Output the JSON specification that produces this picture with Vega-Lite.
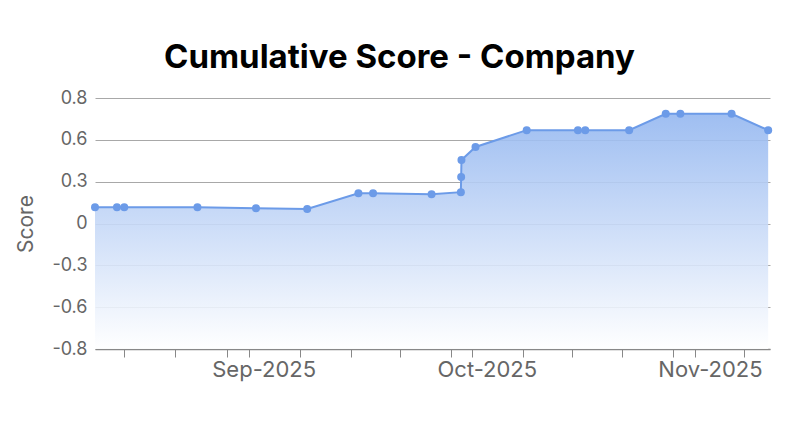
{
  "$schema": "https://vega.github.io/schema/vega-lite/v6.json",
  "width": 675,
  "height": 251,
  "autosize": {"type": "none"},
  "padding": {"left": 95, "top": 98, "right": 30, "bottom": 82},
  "background": "white",
  "title": {
    "text": "Cumulative Score - Company",
    "font": "Inter",
    "fontSize": 33,
    "fontWeight": "bold",
    "color": "#000000",
    "anchor": "middle",
    "dx": -33,
    "offset": 14
  },
  "data": {
    "values": [
      {"date": "2025-08-11T00:00:00", "score": 0.104},
      {"date": "2025-08-14T00:00:00", "score": 0.104},
      {"date": "2025-08-15T00:00:00", "score": 0.104},
      {"date": "2025-08-25T00:00:00", "score": 0.104},
      {"date": "2025-09-02T00:00:00", "score": 0.098},
      {"date": "2025-09-09T00:00:00", "score": 0.093},
      {"date": "2025-09-16T00:00:00", "score": 0.193},
      {"date": "2025-09-18T00:00:00", "score": 0.193},
      {"date": "2025-09-26T00:00:00", "score": 0.187},
      {"date": "2025-09-30T00:00:00", "score": 0.2},
      {"date": "2025-09-30T01:00:00", "score": 0.297},
      {"date": "2025-09-30T02:00:00", "score": 0.405},
      {"date": "2025-10-02T00:00:00", "score": 0.488},
      {"date": "2025-10-09T00:00:00", "score": 0.595},
      {"date": "2025-10-16T00:00:00", "score": 0.595},
      {"date": "2025-10-17T00:00:00", "score": 0.595},
      {"date": "2025-10-23T00:00:00", "score": 0.595},
      {"date": "2025-10-28T00:00:00", "score": 0.699},
      {"date": "2025-10-30T00:00:00", "score": 0.699},
      {"date": "2025-11-06T00:00:00", "score": 0.699},
      {"date": "2025-11-11T00:00:00", "score": 0.595}
    ]
  },
  "encoding": {
    "x": {
      "field": "date",
      "type": "temporal",
      "scale": {
        "domain": [
          {"year": 2025, "month": 8, "date": 11},
          {"year": 2025, "month": 11, "date": 11, "hours": 6}
        ],
        "nice": false
      },
      "axis": {
        "title": null,
        "grid": false,
        "values": [
          {"year": 2025, "month": 8, "date": 15},
          {"year": 2025, "month": 8, "date": 22},
          {"year": 2025, "month": 8, "date": 29},
          {"year": 2025, "month": 9, "date": 1},
          {"year": 2025, "month": 9, "date": 8},
          {"year": 2025, "month": 9, "date": 15},
          {"year": 2025, "month": 9, "date": 21, "hours": 17},
          {"year": 2025, "month": 9, "date": 28, "hours": 16},
          {"year": 2025, "month": 10, "date": 1, "hours": 12},
          {"year": 2025, "month": 10, "date": 8, "hours": 12},
          {"year": 2025, "month": 10, "date": 15, "hours": 5},
          {"year": 2025, "month": 10, "date": 22},
          {"year": 2025, "month": 10, "date": 29},
          {"year": 2025, "month": 11, "date": 1},
          {"year": 2025, "month": 11, "date": 7, "hours": 17}
        ],
        "labelExpr": "date(datum.value) == 1 ? timeFormat(datum.value, '%b-%Y') : ''",
        "labelFont": "Inter",
        "labelFontSize": 22,
        "labelColor": "#666666",
        "labelOffset": 15,
        "labelPadding": 2,
        "labelOverlap": false,
        "tickSize": 8,
        "tickColor": "#888888",
        "domainColor": "#888888",
        "domainWidth": 1.5
      }
    },
    "y": {
      "field": "score",
      "type": "quantitative",
      "scale": {"domain": [-0.8, 0.8], "nice": false, "zero": false},
      "axis": {
        "title": "Score",
        "titleFont": "Inter",
        "titleFontSize": 21,
        "titleFontWeight": "normal",
        "titleColor": "#666666",
        "titlePadding": 15,
        "values": [-0.8, -0.5333, -0.2667, 0, 0.2667, 0.5333, 0.8],
        "labelExpr": "datum.value > 0.7 ? '0.8' : datum.value > 0.5 ? '0.6' : datum.value > 0.2 ? '0.3' : datum.value > -0.1 ? '0' : datum.value > -0.4 ? '-0.3' : datum.value > -0.7 ? '-0.6' : '-0.8'",
        "labelFont": "Inter",
        "labelFontSize": 18,
        "labelColor": "#666666",
        "labelPadding": 8,
        "tickSize": 0,
        "domain": false,
        "grid": true,
        "gridColor": "#a8a8a8",
        "gridWidth": 1
      }
    }
  },
  "layer": [
    {
      "mark": {
        "type": "area",
        "fill": {
          "x1": 1, "y1": 1, "x2": 1, "y2": 0,
          "gradient": "linear",
          "stops": [
            {"offset": 0, "color": "#ffffff"},
            {"offset": 1, "color": "#94b7f0"}
          ]
        },
        "opacity": 0.9
      },
      "encoding": {
        "y2": {"datum": -0.8}
      }
    },
    {
      "mark": {"type": "line", "color": "#6c9be8", "strokeWidth": 2}
    },
    {
      "mark": {"type": "point", "filled": true, "color": "#6c9be8", "size": 64, "opacity": 1}
    }
  ],
  "config": {
    "view": {"stroke": null},
    "font": "Inter"
  }
}
